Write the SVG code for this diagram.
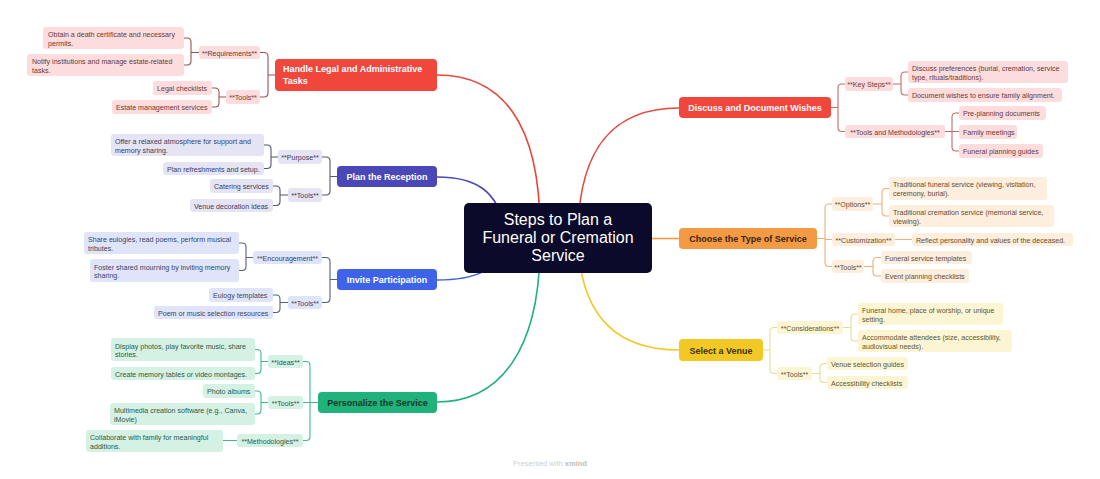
<svg xmlns="http://www.w3.org/2000/svg" width="1100" height="479" viewBox="0 0 1100 479">
<style>
text{font-family:"Liberation Sans",Arial,sans-serif}
.br{font-size:9px;font-weight:bold}
.sm{font-size:7.1px}
.c{text-anchor:middle}
.w{fill:#ffffff}
.line{fill:none;stroke-width:1.1;stroke-linecap:round}
.main{fill:none;stroke-width:1.6}
.r rect{fill:#fcdcdc}.r text{fill:#6b3a3a}
.p rect{fill:#e4e4f4}.p text{fill:#3d3d5c}
.b rect{fill:#dfe4f8}.b text{fill:#3a4466}
.g rect{fill:#d5f1e4}.g text{fill:#2b5a47}
.o rect{fill:#fdeedd}.o text{fill:#6b4a2a}
.y rect{fill:#fcf5d4}.y text{fill:#5f5530}
</style>
<rect width="1100" height="479" fill="#ffffff"/>
<g id="connectors">
<path class="main" stroke="#e8453c" d="M540,230 C540,120 500,75 437,75"/>
<path class="main" stroke="#4a47b8" d="M505,230 C498,190 475,177 437,177"/>
<path class="main" stroke="#3e63e8" d="M505,245 C498,270 475,280 437,280"/>
<path class="main" stroke="#1fb27a" d="M540,245 C540,350 500,402 437,402"/>
<path class="main" stroke="#e8453c" d="M578,230 C580,140 620,108 679,108"/>
<path class="main" stroke="#f39a45" d="M652,238.5 H679"/>
<path class="main" stroke="#f2c924" d="M578,245 C582,320 620,350 679,350"/>
<path class="line" stroke="#9b5252" d="M275,75 H268 M268,75 V56.5 Q268,52.5 264,52.5 H260 M268,75 V93 Q268,97 264,97 H260 M199,52.5 H191 M191,52.5 V42 Q191,38 187,38 H184 M191,52.5 V61 Q191,65 187,65 H184 M226,97 H219 M219,97 V92 Q219,88 215,88 H212 M219,97 V103 Q219,107 215,107 H212"/>
<path class="line" stroke="#55556e" d="M337,176.5 H330 M330,176.5 V161 Q330,157 326,157 H322 M330,176.5 V191 Q330,195 326,195 H322 M278,157 H271 M271,157 V149 Q271,145 267,145 H264 M271,157 V164.5 Q271,168.5 267,168.5 H264 M288,195 H280 M280,195 V190 Q280,186 276,186 H273 M280,195 V201.5 Q280,205.5 276,205.5 H273"/>
<path class="line" stroke="#56607e" d="M337,279.5 H330 M330,279.5 V261.5 Q330,257.5 326,257.5 H322 M330,279.5 V298.5 Q330,302.5 326,302.5 H322 M253,257.5 H246 M246,257.5 V247 Q246,243 242,243 H239 M246,257.5 V266.5 Q246,270.5 242,270.5 H239 M288,302.5 H280 M280,302.5 V299 Q280,295 276,295 H273 M280,302.5 V308.5 Q280,312.5 276,312.5 H273"/>
<path class="line" stroke="#3dbb8a" d="M318,402.5 H310 M310,402.5 V365.5 Q310,361.5 306,361.5 H303 M310,402.5 H303 M310,402.5 V436.5 Q310,440.5 306,440.5 H303 M268,361.5 H261 M261,361.5 V353.5 Q261,349.5 257,349.5 H255 M261,361.5 V369.5 Q261,373.5 257,373.5 H255 M268,402.5 H261 M261,402.5 V395 Q261,391 257,391 H255 M261,402.5 V410 Q261,414 257,414 H255 M237,440.5 H223"/>
<path class="line" stroke="#c46a6a" d="M831,107.5 H838 M838,107.5 V88 Q838,84 842,84 H845 M838,107.5 V127.5 Q838,131.5 842,131.5 H845 M893,84 H901 M901,84 V76 Q901,72 905,72 H908 M901,84 V91 Q901,95 905,95 H908 M945,131.5 H952 M952,131.5 V117 Q952,113 956,113 H959 M952,131.5 H959 M952,131.5 V147 Q952,151 956,151 H959"/>
<path class="line" stroke="#e8b27a" d="M817,238.5 H825 M825,238.5 V208 Q825,204 829,204 H832 M825,239.5 H832 M825,238.5 V262.5 Q825,266.5 829,266.5 H832 M873,204 H882 M882,204 V192.5 Q882,188.5 886,188.5 H889 M882,204 V212 Q882,216 886,216 H889 M895,239.5 H912 M864,266.5 H873 M873,266.5 V261.5 Q873,257.5 877,257.5 H881 M873,266.5 V272 Q873,276 877,276 H881"/>
<path class="line" stroke="#e7dc96" d="M763,350 H770 M770,350 V331.5 Q770,327.5 774,327.5 H777 M770,350 V369.5 Q770,373.5 774,373.5 H777 M843,327.5 H851 M851,327.5 V318 Q851,314 855,314 H858 M851,327.5 V337 Q851,341 855,341 H858 M812,373.5 H820 M820,373.5 V367.5 Q820,363.5 824,363.5 H827 M820,373.5 V378.5 Q820,382.5 824,382.5 H827"/>
</g>
<g id="central">
<rect x="464" y="203" width="188" height="70" rx="5" fill="#0c0a2a"/>
<text class="c w" x="558" y="225" font-size="16">Steps to Plan a</text>
<text class="c w" x="558" y="243" font-size="16">Funeral or Cremation</text>
<text class="c w" x="558" y="261" font-size="16">Service</text>
</g>
<g id="legal">
<rect x="275" y="59" width="162" height="32" rx="4" fill="#f1463c"/>
<text class="br w" x="283" y="72">Handle Legal and Administrative</text>
<text class="br w" x="283" y="84">Tasks</text>
</g>
<g id="legal-sub" class="r">
<rect x="199" y="46" width="61" height="13" rx="3"/><text class="sm c" x="229.5" y="55.5">**Requirements**</text>
<rect x="226" y="90" width="34" height="14" rx="3"/><text class="sm c" x="243" y="99.5">**Tools**</text>
<rect x="43" y="27" width="141" height="22" rx="3"/><text class="sm" x="48" y="37">Obtain a death certificate and necessary</text><text class="sm" x="48" y="45.5">permits.</text>
<rect x="27" y="54" width="157" height="22" rx="3"/><text class="sm" x="32" y="64">Notify institutions and manage estate-related</text><text class="sm" x="32" y="72.5">tasks.</text>
<rect x="153" y="81" width="59" height="14" rx="3"/><text class="sm" x="157" y="91">Legal checklists</text>
<rect x="112" y="100" width="100" height="14" rx="3"/><text class="sm" x="116" y="110">Estate management services</text>
</g>
<g id="reception">
<rect x="337" y="166" width="100" height="21" rx="4" fill="#4a47b8"/>
<text class="br c w" x="387" y="180">Plan the Reception</text>
</g>
<g id="reception-sub" class="p">
<rect x="278" y="150" width="44" height="14" rx="3"/><text class="sm c" x="300" y="160">**Purpose**</text>
<rect x="288" y="188" width="34" height="14" rx="3"/><text class="sm c" x="305" y="198">**Tools**</text>
<rect x="111" y="134" width="153" height="22" rx="3"/><text class="sm" x="115" y="144">Offer a relaxed atmosphere for support and</text><text class="sm" x="115" y="152.5">memory sharing.</text>
<rect x="163" y="162" width="101" height="13" rx="3"/><text class="sm" x="167" y="171.5">Plan refreshments and setup.</text>
<rect x="210" y="179" width="63" height="14" rx="3"/><text class="sm" x="214" y="189">Catering services</text>
<rect x="190" y="199" width="83" height="13" rx="3"/><text class="sm" x="194" y="208.5">Venue decoration ideas</text>
</g>
<g id="participation">
<rect x="337" y="269" width="100" height="21" rx="4" fill="#3e63e8"/>
<text class="br c w" x="387" y="283">Invite Participation</text>
</g>
<g id="participation-sub" class="b">
<rect x="253" y="251" width="69" height="13" rx="3"/><text class="sm c" x="287.5" y="260.5">**Encouragement**</text>
<rect x="288" y="296" width="34" height="13" rx="3"/><text class="sm c" x="305" y="305.5">**Tools**</text>
<rect x="84" y="232" width="155" height="22" rx="3"/><text class="sm" x="88" y="242">Share eulogies, read poems, perform musical</text><text class="sm" x="88" y="250.5">tributes.</text>
<rect x="90" y="259" width="149" height="23" rx="3"/><text class="sm" x="94" y="269.5">Foster shared mourning by inviting memory</text><text class="sm" x="94" y="278">sharing.</text>
<rect x="209" y="288" width="64" height="14" rx="3"/><text class="sm" x="213" y="298">Eulogy templates</text>
<rect x="154" y="306" width="119" height="13" rx="3"/><text class="sm" x="158" y="315.5">Poem or music selection resources</text>
</g>
<g id="personalize">
<rect x="318" y="392" width="119" height="21" rx="4" fill="#1fb27a"/>
<text class="br c" x="377.5" y="406" fill="#17352a">Personalize the Service</text>
</g>
<g id="personalize-sub" class="g">
<rect x="268" y="355" width="35" height="13" rx="3"/><text class="sm c" x="285.5" y="364.5">**Ideas**</text>
<rect x="268" y="396" width="35" height="13" rx="3"/><text class="sm c" x="285.5" y="405.5">**Tools**</text>
<rect x="237" y="434" width="66" height="13" rx="3"/><text class="sm c" x="270" y="443.5">**Methodologies**</text>
<rect x="111" y="338" width="144" height="23" rx="3"/><text class="sm" x="115" y="348.5">Display photos, play favorite music, share</text><text class="sm" x="115" y="357">stories.</text>
<rect x="111" y="367" width="144" height="13" rx="3"/><text class="sm" x="115" y="376.5">Create memory tables or video montages.</text>
<rect x="203" y="384" width="52" height="14" rx="3"/><text class="sm" x="207" y="394">Photo albums</text>
<rect x="110" y="403" width="145" height="22" rx="3"/><text class="sm" x="114" y="413">Multimedia creation software (e.g., Canva,</text><text class="sm" x="114" y="421.5">iMovie)</text>
<rect x="86" y="430" width="137" height="22" rx="3"/><text class="sm" x="90" y="440">Collaborate with family for meaningful</text><text class="sm" x="90" y="448.5">additions.</text>
</g>
<g id="wishes">
<rect x="679" y="97" width="152" height="21" rx="4" fill="#f1463c"/>
<text class="br c w" x="755" y="111">Discuss and Document Wishes</text>
</g>
<g id="wishes-sub" class="r">
<rect x="845" y="77" width="48" height="14" rx="3"/><text class="sm c" x="869" y="87">**Key Steps**</text>
<rect x="845" y="125" width="100" height="13" rx="3"/><text class="sm c" x="895" y="134.5">**Tools and Methodologies**</text>
<rect x="908" y="61" width="160" height="22" rx="3"/><text class="sm" x="912" y="71">Discuss preferences (burial, cremation, service</text><text class="sm" x="912" y="79.5">type, rituals/traditions).</text>
<rect x="908" y="88" width="154" height="14" rx="3"/><text class="sm" x="912" y="98">Document wishes to ensure family alignment.</text>
<rect x="959" y="106" width="87" height="14" rx="3"/><text class="sm" x="963" y="116">Pre-planning documents</text>
<rect x="959" y="125" width="58" height="14" rx="3"/><text class="sm" x="963" y="135">Family meetings</text>
<rect x="959" y="144" width="84" height="14" rx="3"/><text class="sm" x="963" y="154">Funeral planning guides</text>
</g>
<g id="type">
<rect x="679" y="228" width="138" height="21" rx="4" fill="#f39a45"/>
<text class="br c" x="748" y="242" fill="#3a2410">Choose the Type of Service</text>
</g>
<g id="type-sub" class="o">
<rect x="832" y="197" width="41" height="14" rx="3"/><text class="sm c" x="852.5" y="207">**Options**</text>
<rect x="832" y="233" width="63" height="13" rx="3"/><text class="sm c" x="863.5" y="242.5">**Customization**</text>
<rect x="832" y="260" width="32" height="13" rx="3"/><text class="sm c" x="848" y="269.5">**Tools**</text>
<rect x="889" y="177" width="158" height="23" rx="3"/><text class="sm" x="893" y="187">Traditional funeral service (viewing, visitation,</text><text class="sm" x="893" y="196">ceremony, burial).</text>
<rect x="889" y="205" width="165" height="22" rx="3"/><text class="sm" x="893" y="215">Traditional cremation service (memorial service,</text><text class="sm" x="893" y="223.5">viewing).</text>
<rect x="912" y="233" width="161" height="13" rx="3"/><text class="sm" x="916" y="242.5">Reflect personality and values of the deceased.</text>
<rect x="881" y="251" width="91" height="13" rx="3"/><text class="sm" x="885" y="260.5">Funeral service templates</text>
<rect x="881" y="269" width="88" height="14" rx="3"/><text class="sm" x="885" y="279">Event planning checklists</text>
</g>
<g id="venue">
<rect x="679" y="339" width="84" height="22" rx="4" fill="#f2c924"/>
<text class="br c" x="721" y="353.5" fill="#3a3010">Select a Venue</text>
</g>
<g id="venue-sub" class="y">
<rect x="777" y="321" width="66" height="13" rx="3"/><text class="sm c" x="810" y="330.5">**Considerations**</text>
<rect x="777" y="367" width="35" height="13" rx="3"/><text class="sm c" x="794.5" y="376.5">**Tools**</text>
<rect x="858" y="303" width="145" height="22" rx="3"/><text class="sm" x="862" y="313">Funeral home, place of worship, or unique</text><text class="sm" x="862" y="321.5">setting.</text>
<rect x="858" y="330" width="154" height="22" rx="3"/><text class="sm" x="862" y="340">Accommodate attendees (size, accessibility,</text><text class="sm" x="862" y="348.5">audiovisual needs).</text>
<rect x="827" y="357" width="81" height="13" rx="3"/><text class="sm" x="831" y="366.5">Venue selection guides</text>
<rect x="827" y="376" width="81" height="13" rx="3"/><text class="sm" x="831" y="385.5">Accessibility checklists</text>
</g>
<text x="550" y="466" class="c" font-size="7.5" fill="#cfcfcf">Presented with <tspan font-weight="bold" fill="#bdbdbd">xmind</tspan></text>
</svg>
